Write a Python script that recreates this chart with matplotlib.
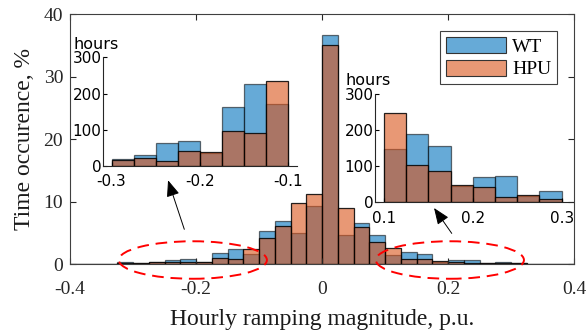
import numpy as np
import matplotlib
matplotlib.use('Agg')
from matplotlib import pyplot as plt
from matplotlib.patches import Ellipse, Patch

# main histogram, % of time, bins of 0.025 from -0.4 to 0.4
bin_edges = np.arange(-0.4, 0.4, 0.025)
wt = [0, 0.05, 0.05, 0.35, 0.1, 0.3, 0.7, 0.75, 0.3, 1.7, 2.35, 1.65, 5.25, 6.95, 5.0, 9.3,
      36.6, 4.65, 6.5, 4.65, 1.45, 2.0, 1.55, 0.4, 0.6, 0.7, 0.2, 0.3, 0.1, 0, 0, 0]
hpu = [0, 0.05, 0.05, 0.1, 0.15, 0.25, 0.35, 0.4, 0.35, 0.9, 0.8, 2.4, 4.1, 6.05, 9.8, 11.2,
       35.0, 9.0, 5.9, 3.6, 2.6, 0.85, 0.75, 0.55, 0.4, 0.2, 0.2, 0.1, 0.15, 0, 0, 0]

# zoomed insets, hours
left_edges = [-0.3, -0.275, -0.25, -0.225, -0.2, -0.175, -0.15, -0.125]
left_wt = [19, 31, 63, 69, 35, 163, 225, 172]
left_hpu = [17, 21, 15, 40, 38, 97, 91, 234]
right_edges = [0.1, 0.125, 0.15, 0.175, 0.2, 0.225, 0.25, 0.275]
right_wt = [146, 189, 155, 45, 71, 74, 18, 32]
right_hpu = [247, 102, 86, 49, 41, 14, 21, 8]

blue = (0.0, 0.447, 0.741, 0.6)
orange = (0.85, 0.325, 0.098, 0.6)
width = 0.025

serif = 'Liberation Serif'
fs_tick = 14
fs_label = 17

fig = plt.figure(figsize=(5.87, 3.35), dpi=100)
ax = fig.add_axes([0.1193, 0.2119, 0.8586, 0.7463])

ax.bar(bin_edges, wt, width=width, align='edge', facecolor=blue, edgecolor=(0, 0, 0, 0.55), linewidth=0.9)
ax.bar(bin_edges, hpu, width=width, align='edge', facecolor=orange, edgecolor=(0, 0, 0, 0.85), linewidth=0.9)

ax.set_xlim(-0.4, 0.4)
ax.set_ylim(0, 40)
ax.set_xticks([-0.4, -0.2, 0, 0.2, 0.4])
ax.set_xticklabels(['-0.4', '-0.2', '0', '0.2', '0.4'])
ax.set_yticks([0, 10, 20, 30, 40])
ax.tick_params(direction='in', length=4, width=0.8, top=True, right=True,
               labelsize=fs_tick, colors='0.15')
ax.tick_params(axis='x', pad=12)
ax.tick_params(axis='y', pad=5)
for lab in ax.get_xticklabels() + ax.get_yticklabels():
    lab.set_fontfamily(serif)
for s in ax.spines.values():
    s.set_color('0.25')
    s.set_linewidth(0.8)
ax.set_xlabel('Hourly ramping magnitude, p.u.', fontsize=fs_label, family=serif, color='0.1', labelpad=8)
ax.set_ylabel('Time occurence, %', fontsize=fs_label, family=serif, color='0.1', labelpad=6)

leg = ax.legend(handles=[Patch(facecolor=blue, edgecolor='0.2', lw=0.8, label='WT'),
                         Patch(facecolor=orange, edgecolor='0.2', lw=0.8, label='HPU')],
                loc='upper right', bbox_to_anchor=(0.966, 0.932), fancybox=False,
                framealpha=1, edgecolor='0.25', prop={'family': serif, 'size': fs_tick},
                handlelength=3.1, handleheight=0.9, handletextpad=0.3, labelspacing=0.2,
                borderpad=0.3, borderaxespad=0)
leg.get_frame().set_linewidth(0.8)

# red dashed ellipses marking the tails
for cx in [-0.205, 0.203]:
    ax.add_patch(Ellipse((cx, 0.64), 0.235, 6.0, fill=False, edgecolor='red',
                         linewidth=1.4, linestyle=(0, (6, 3.5)), clip_on=False, zorder=5))

# arrows pointing to the insets
arrow = dict(arrowstyle='-|>,head_length=1.0,head_width=0.4', color='k', lw=0.7,
             shrinkA=0, shrinkB=0, mutation_scale=10)
ax.annotate('', xy=(-0.2444, 13.4), xytext=(-0.2186, 5.55), arrowprops=arrow, annotation_clip=False)
ax.annotate('', xy=(0.1778, 8.96), xytext=(0.2059, 4.9), arrowprops=arrow, annotation_clip=False)


def draw_inset(rect, edges, w, h, xlim, xticks, xlabels):
    ins = fig.add_axes(rect)
    ins.patch.set_alpha(0)
    ins.bar(edges, w, width=width, align='edge', facecolor=blue, edgecolor=(0, 0, 0, 0.55), linewidth=0.9)
    ins.bar(edges, h, width=width, align='edge', facecolor=orange, edgecolor=(0, 0, 0, 0.85), linewidth=0.9)
    ins.set_xlim(*xlim)
    ins.set_ylim(0, 300)
    ins.set_yticks([0, 100, 200, 300])
    ins.set_xticks(xticks)
    ins.set_xticklabels(xlabels)
    ins.spines['top'].set_visible(False)
    ins.spines['right'].set_visible(False)
    for s in ['left', 'bottom']:
        ins.spines[s].set_color('0.15')
        ins.spines[s].set_linewidth(0.8)
    ins.tick_params(direction='in', length=3, width=0.8, labelsize=11)
    ins.tick_params(axis='x', pad=6)
    ins.tick_params(axis='y', pad=1)
    ins.text(-0.15, 1.05, 'hours', transform=ins.transAxes, fontsize=11.5,
             ha='left', va='bottom')
    return ins


draw_inset([0.175, 0.5045, 0.3305, 0.3245], left_edges, left_wt, left_hpu,
           (-0.31, -0.09), [-0.3, -0.2, -0.1], ['-0.3', '-0.2', '-0.1'])
draw_inset([0.6388, 0.396, 0.337, 0.3245], right_edges, right_wt, right_hpu,
           (0.09, 0.3125), [0.1, 0.2, 0.3], ['0.1', '0.2', '0.3'])

fig.savefig('out.png', dpi=100)
